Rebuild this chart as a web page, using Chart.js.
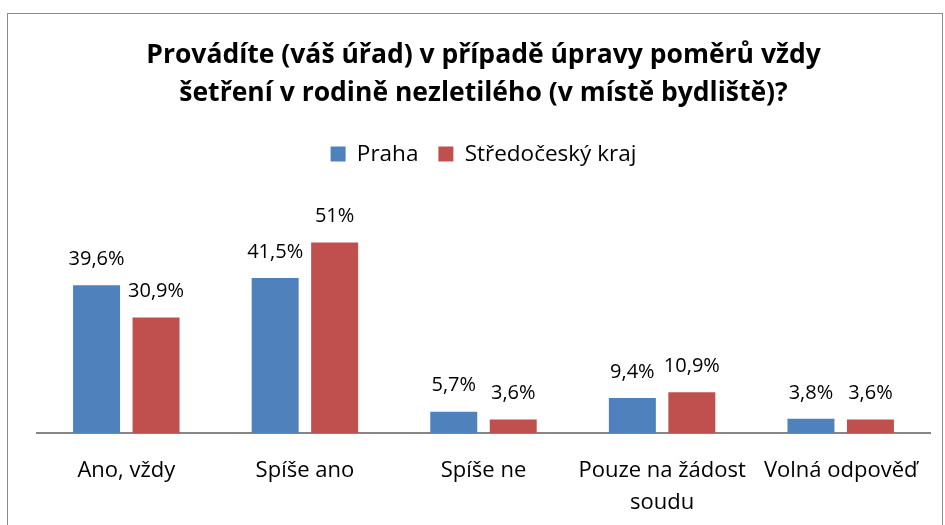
<!DOCTYPE html>
<html>
<head>
<meta charset="utf-8">
<script src="https://cdn.jsdelivr.net/npm/chart.js@4/dist/chart.umd.min.js"></script>
<style>
  html, body { margin: 0; padding: 0; background: #fff; overflow: hidden; }
  #frame { position: absolute; left: 7px; top: 13px; width: 936px; height: 530px; border: 1px solid #8c8c8c; box-sizing: border-box; }
  #wrap { position: absolute; left: 0; top: 0; width: 945px; height: 525px; }
</style>
</head>
<body>
<div id="frame"></div>
<div id="wrap"><canvas id="myChart" width="945" height="525"></canvas></div>
<script>
const categories = ['Ano, vždy', 'Spíše ano', 'Spíše ne', ['Pouze na žádost', 'soudu'], 'Volná odpověď'];
const praha = [39.6, 41.5, 5.7, 9.4, 3.8];
const stredocesky = [30.9, 51, 3.6, 10.9, 3.6];
const seriesNames = ['Praha', 'Středočeský kraj'];

const fontFamily = "'Open Sans', sans-serif";

const valueLabels = {
    id: 'valueLabels',
    afterDatasetsDraw(chart) {
        const ctx = chart.ctx;
        ctx.save();
        ctx.font = '20px ' + fontFamily;
        ctx.fillStyle = '#000';
        ctx.textAlign = 'center';
        ctx.textBaseline = 'bottom';
        chart.data.datasets.forEach((ds, i) => {
            chart.getDatasetMeta(i).data.forEach((bar, j) => {
                const txt = String(ds.data[j]).replace('.', ',') + '%';
                ctx.fillText(txt, bar.x, bar.y - 16);
            });
        });
        ctx.restore();
    }
};

new Chart(document.getElementById("myChart"), {
    type: 'bar',
    data: {
        labels: categories,
        datasets: [{
            data: praha,
            label: seriesNames[0],
            backgroundColor: "#4F81BD",
            borderColor: "#4F81BD"
        }, {
            data: stredocesky,
            label: seriesNames[1],
            backgroundColor: "#C0504D",
            borderColor: "#C0504D"
        }]
    },
    options: {
        responsive: false,
        animation: false,
        categoryPercentage: 0.666,
        barPercentage: 0.79,
        layout: {
            padding: { left: 37, right: 15, top: 36, bottom: 0 }
        },
        plugins: {
            title: {
                display: true,
                text: ['Provádíte (váš úřad) v případě úpravy poměrů vždy', 'šetření v rodině nezletilého (v místě bydliště)?'],
                color: '#000',
                font: { family: fontFamily, size: 26.5, weight: 'bold', lineHeight: 1.45 },
                padding: { top: 0, bottom: 10 }
            },
            legend: {
                labels: {
                    color: '#000',
                    font: { family: fontFamily, size: 22.5 },
                    boxWidth: 15,
                    boxHeight: 15,
                    padding: 20
                }
            },
            tooltip: { enabled: false }
        },
        scales: {
            x: {
                grid: { display: false },
                border: { display: true, color: '#868686', width: 2 },
                ticks: {
                    color: '#000',
                    font: { family: fontFamily, size: 22, lineHeight: 1.45 },
                    padding: 14,
                    maxRotation: 0,
                    autoSkip: false
                },
                afterFit(scale) { scale.height = 92; }
            },
            y: {
                display: false,
                min: 0,
                max: 69
            }
        }
    },
    plugins: [valueLabels]
});
</script>
</body>
</html>
